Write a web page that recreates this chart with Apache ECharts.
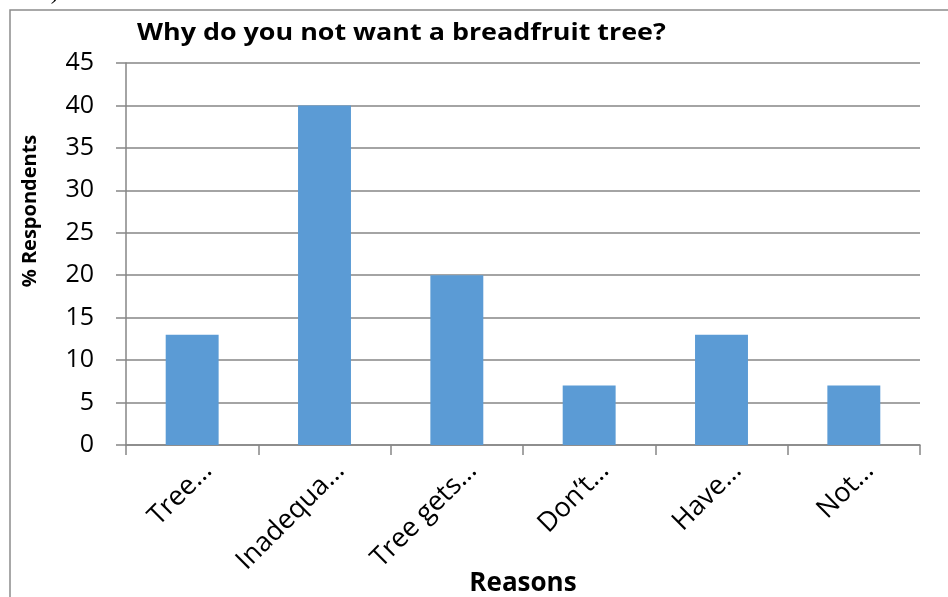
<!DOCTYPE html>
<html><head><meta charset="utf-8">
<script src="https://cdn.jsdelivr.net/npm/echarts@6/dist/echarts.min.js"></script>
<style>html,body{margin:0;padding:0;background:#fff}#c{width:948px;height:597px}</style>
</head><body><div id="c"></div>
<script>
const categories = ['Tree…', 'Inadequa…', 'Tree gets…', 'Don’t…', 'Have…', 'Not…'];
const values = [13, 40, 20, 7, 13, 7];
const yTicks = { min: 0, max: 45, interval: 5 };
const titleText = 'Why do you not want a breadfruit tree?';
const xName = 'Reasons';
const yName = '% Respondents';

const chart = echarts.init(document.getElementById('c'), null, { renderer: 'canvas' });
const font = 'Open Sans';
chart.setOption({
  animation: false,
  grid: { left: 126, right: 28, top: 63, bottom: 152, containLabel: false, outerBoundsMode: 'none' },
  xAxis: {
    type: 'category', data: categories,
    name: xName, nameLocation: 'middle', nameGap: 126, nameMoveOverlap: false,
    nameTextStyle: { fontFamily: font, fontWeight: 'bold', fontSize: 26, color: '#000' },
    axisLine: { lineStyle: { color: '#868686', width: 1.5 } },
    axisTick: { show: true, length: 10, lineStyle: { color: '#868686', width: 1.5 } },
    axisLabel: { rotate: 45, fontFamily: font, fontSize: 27, color: '#000', margin: 37,
                 padding: [0, -22, 0, 0], interval: 0 }
  },
  yAxis: {
    type: 'value', min: yTicks.min, max: yTicks.max, interval: yTicks.interval,
    axisLine: { show: true, lineStyle: { color: '#868686', width: 1.5 } },
    axisTick: { show: true, length: 10, lineStyle: { color: '#868686', width: 1.5 } },
    axisLabel: { fontFamily: font, fontSize: 25, color: '#000', margin: 32 },
    splitLine: { lineStyle: { color: '#868686', width: 1.5 } }
  },
  series: [{
    type: 'bar', data: values, barWidth: '40%',
    itemStyle: { color: '#5B9BD5' }
  }],
  graphic: [
    { type: 'rect', shape: { x: 10, y: 10, width: 1000, height: 1000 },
      style: { fill: 'none', stroke: '#8c8c8c', lineWidth: 1.5 }, silent: true },
    { type: 'text', x: 2, y: 5,
      style: { text: 'ure 4).', font: '24px "Liberation Serif"', fill: '#000', verticalAlign: 'bottom' } },
    { type: 'text', x: 137, y: 33, scaleX: 1.12,
      style: { text: titleText, font: 'bold 24px "Open Sans"', fill: '#000', align: 'left', verticalAlign: 'middle' } },
    { type: 'text', x: 30, y: 211, rotation: Math.PI / 2,
      style: { text: yName, font: 'bold 20px "Open Sans"', fill: '#000', align: 'center', verticalAlign: 'middle' } }
  ]
});
</script></body></html>
